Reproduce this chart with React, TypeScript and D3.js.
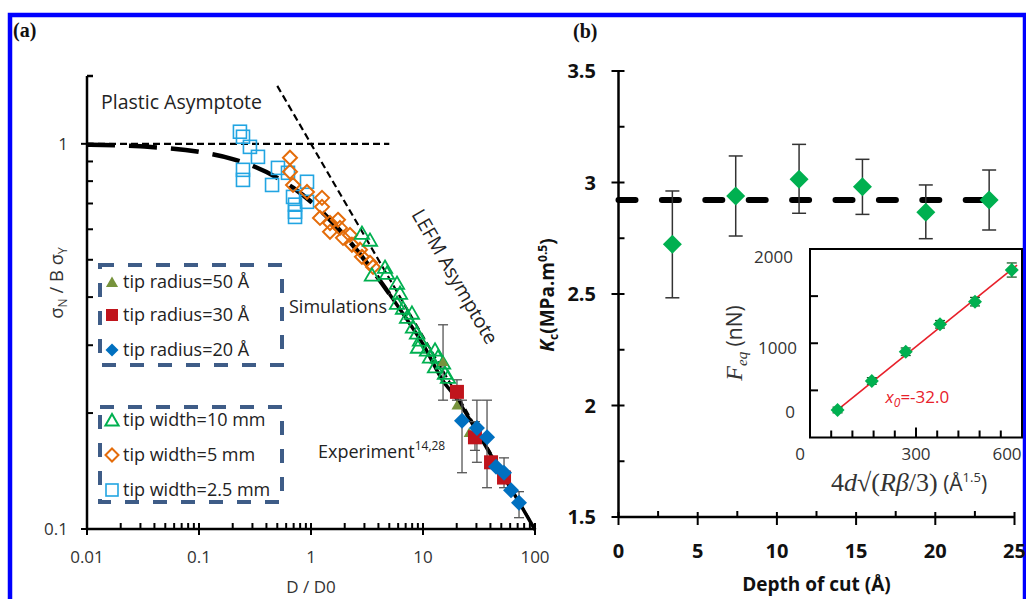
import React, { useEffect } from "react";
import * as d3 from "d3";

// ---------- panel (a): size effect, log-log ----------
const curveD = [0.01, 0.03, 0.1, 0.2, 0.3, 0.5, 0.7, 1, 1.5, 2, 3, 5, 7, 10, 15, 20, 30, 50, 70, 100];
const curveS = [0.995, 0.985, 0.953, 0.913, 0.877, 0.816, 0.767, 0.707, 0.632, 0.577, 0.5, 0.408, 0.354, 0.302, 0.243, 0.218, 0.18, 0.14, 0.119, 0.0995];
const plasticD = [0.01, 5];
const plasticS = [1, 1];
const lefmD = [0.5, 100];
const lefmS = [1.414, 0.1];

const sqD = [0.232, 0.247, 0.285, 0.336, 0.247, 0.247, 0.449, 0.507, 0.623, 0.921, 0.691, 0.921, 0.72, 0.72, 0.72];
const sqS = [1.075, 1.043, 0.982, 0.925, 0.856, 0.806, 0.782, 0.866, 0.841, 0.797, 0.728, 0.707, 0.695, 0.666, 0.646];
const dmD = [0.649, 0.649, 0.691, 0.921, 1.254, 1.254, 1.203, 1.478, 1.742, 1.478, 1.815, 1.931, 2.23, 2.32, 2.74, 2.85, 3.36, 3.58];
const dmS = [0.92, 0.846, 0.782, 0.75, 0.724, 0.686, 0.642, 0.623, 0.635, 0.591, 0.605, 0.57, 0.58, 0.547, 0.531, 0.509, 0.491, 0.479];
const trD = [2.85, 3.36, 3.5, 4.58, 4.77, 5.86, 6.23, 5.86, 6.63, 7.2, 7.97, 8.14, 8.84, 9.4, 9.02, 10.86, 11.55, 12.8, 13.6, 12.8, 15.1, 15.7, 16.7];
const trS = [0.587, 0.563, 0.457, 0.479, 0.462, 0.435, 0.41, 0.386, 0.375, 0.355, 0.364, 0.335, 0.323, 0.31, 0.297, 0.292, 0.28, 0.292, 0.28, 0.264, 0.27, 0.254, 0.248];

const r50D = [15.1, 20.1, 25.8];
const r50S = [0.272, 0.21, 0.178];
const r50Lo = [0.216, null, null];
const r50Hi = [0.339, null, null];
const r30D = [20.1, 29.1, 40.5, 52.9];
const r30S = [0.227, 0.173, 0.149, 0.136];
const r30Lo = [0.216, 0.16, null, 0.128];
const r30Hi = [0.244, 0.19, null, 0.153];
const r20D = [22.3, 30.3, 37.3, 44.9, 52.9, 61.1, 72.0];
const r20S = [0.191, 0.183, 0.173, 0.145, 0.14, 0.126, 0.117];
const r20Lo = [0.14, 0.149, 0.128, null, null, null, 0.107];
const r20Hi = [0.216, 0.216, 0.216, null, null, null, 0.125];

const xTicksA = [0.01, 0.1, 1, 10, 100];
const xTickLabelsA = ["0.01", "0.1", "1", "10", "100"];
const yTicksA = [0.1, 1];
const yTickLabelsA = ["0.1", "1"];
const legendLabels = ["tip radius=50 Å", "tip radius=30 Å", "tip radius=20 Å", "tip width=10 mm", "tip width=5 mm", "tip width=2.5 mm"];

// ---------- panel (b): toughness vs depth ----------
const depth = [3.4, 7.4, 11.4, 15.4, 19.4, 23.4];
const kc = [2.723, 2.939, 3.015, 2.981, 2.867, 2.921];
const kcLo = [2.483, 2.76, 2.862, 2.857, 2.748, 2.787];
const kcHi = [2.962, 3.119, 3.171, 3.104, 2.989, 3.056];
const kcMean = 2.921;
const xTicksB = [0, 5, 10, 15, 20, 25];
const yTicksB = [1.5, 2, 2.5, 3, 3.5];
const yTickLabelsB = ["1.5", "2", "2.5", "3", "3.5"];

// inset
const insetX = [78, 175, 271, 368, 467, 571];
const insetF = [292, 600, 910, 1201, 1441, 1777];
const insetErr = [30, 35, 40, 40, 45, 75];
const fitX = [78, 586];
const fitF = [292, 1830];
const insetXLabels = ["0", "300", "600"];
const insetXLabelVals = [0, 300, 600];
const insetYLabels = ["0", "1000", "2000"];
const insetYLabelVals = [0, 1000, 2000];

const C = {
  sky: "#22A5E2",
  orange: "#E46C0A",
  green: "#00B050",
  red: "#C0141C",
  blue: "#0070C0",
  olive: "#77933C",
  legend: "#3E5C87",
};

const tri = (cx: number, cy: number, w: number) =>
  `${cx},${cy - w * 0.5} ${cx + w * 0.55},${cy + w * 0.45} ${cx - w * 0.55},${cy + w * 0.45}`;
const dia = (cx: number, cy: number, r: number) =>
  `${cx},${cy - r} ${cx + r},${cy} ${cx},${cy + r} ${cx - r},${cy}`;

export default function App() {
  useEffect(() => {
    document.body.style.margin = "0";
  }, []);

  const xA = d3.scaleLog().domain([0.01, 100]).range([87, 535]);
  const yA = d3.scaleLog().domain([0.1, 1.5]).range([529, 76]);
  const xB = d3.scaleLinear().domain([0, 25]).range([618.5, 1014.5]);
  const yB = d3.scaleLinear().domain([1.5, 3.5]).range([517, 71]);
  const xI = d3.scaleLinear().domain([0, 600]).range([810, 1022]);
  const yI = d3.scaleLinear().domain([0, 2000]).range([437.5, 249]);

  const lineA = d3
    .line<[number, number]>()
    .x((d) => xA(d[0]))
    .y((d) => yA(d[1]))
    .curve(d3.curveMonotoneX);
  const pairs = (a: number[], b: number[]) => a.map((v, i) => [v, b[i]] as [number, number]);
  const curve = pairs(curveD, curveS);
  const curveDash = curve.filter((d) => d[0] <= 5);
  const curveSolid = curve.filter((d) => d[0] >= 5);

  const minorX = xA.ticks().filter((v) => !xTicksA.some((t) => Math.abs(t - v) < 1e-9));
  const minorY = yA.ticks().filter((v) => v <= 1.5 && !yTicksA.some((t) => Math.abs(t - v) < 1e-9));

  const sans = "'Open Sans', sans-serif";
  const serif = "'Liberation Serif', 'DejaVu Serif', serif";

  const errA = (D: number[], lo: (number | null)[], hi: (number | null)[], key: string) =>
    D.map((d, i) =>
      lo[i] == null ? null : (
        <g key={key + i} stroke="#555" strokeWidth={1.3}>
          <line x1={xA(d)} x2={xA(d)} y1={yA(hi[i] as number)} y2={yA(lo[i] as number)} />
          <line x1={xA(d) - 5} x2={xA(d) + 5} y1={yA(hi[i] as number)} y2={yA(hi[i] as number)} />
          <line x1={xA(d) - 5} x2={xA(d) + 5} y1={yA(lo[i] as number)} y2={yA(lo[i] as number)} />
        </g>
      )
    );

  const legendY = [282, 315, 350, 420, 455, 490];
  const legendMarker = (i: number, y: number) => {
    const x = 112;
    switch (i) {
      case 0:
        return <polygon points={tri(x, y, 11)} fill={C.olive} />;
      case 1:
        return <rect x={x - 6} y={y - 6} width={12} height={12} fill={C.red} />;
      case 2:
        return <polygon points={dia(x, y, 6.5)} fill={C.blue} />;
      case 3:
        return <polygon points={tri(x, y, 12)} fill="none" stroke={C.green} strokeWidth={2} />;
      case 4:
        return <polygon points={dia(x, y, 6.5)} fill="none" stroke={C.orange} strokeWidth={2} />;
      default:
        return <rect x={x - 6} y={y - 6} width={12} height={12} fill="none" stroke={C.sky} strokeWidth={1.6} />;
    }
  };

  const mean: [number, number][] = [[0, kcMean], [depth[depth.length - 1], kcMean]];
  const lineB = d3
    .line<[number, number]>()
    .x((d) => xB(d[0]))
    .y((d) => yB(d[1]));

  return (
    <svg width={1026} height={599} style={{ position: "absolute", left: 0, top: 0, background: "#fff" }}>
      <rect x={0} y={0} width={1026} height={599} fill="#fff" />
      <rect x={10} y={15} width={1015} height={610} fill="none" stroke="#0000FF" strokeWidth={4.5} />

      {/* ===== panel (a) ===== */}
      <text x={13} y={37} fontFamily={serif} fontWeight="bold" fontSize={20} fill="#111">(a)</text>

      {/* asymptotes and model curve */}
      <path d={lineA(pairs(plasticD, plasticS)) || ""} fill="none" stroke="#000" strokeWidth={2.2} strokeDasharray="7 4" />
      <path d={lineA(pairs(lefmD, lefmS)) || ""} fill="none" stroke="#000" strokeWidth={2.2} strokeDasharray="7 4" />
      <path d={lineA(curveDash) || ""} fill="none" stroke="#000" strokeWidth={4.5} strokeDasharray="28 14" />
      <path d={lineA(curveSolid) || ""} fill="none" stroke="#000" strokeWidth={3.5} />

      {/* error bars */}
      {errA(r50D, r50Lo, r50Hi, "e50")}
      {errA(r30D, r30Lo, r30Hi, "e30")}
      {errA(r20D, r20Lo, r20Hi, "e20")}

      {/* experiment markers */}
      {sqD.map((d, i) => (
        <rect key={"sq" + i} x={xA(d) - 6.5} y={yA(sqS[i]) - 6.5} width={13} height={13} fill="none" stroke={C.sky} strokeWidth={1.6} />
      ))}
      {dmD.map((d, i) => (
        <polygon key={"dm" + i} points={dia(xA(d), yA(dmS[i]), 7)} fill="none" stroke={C.orange} strokeWidth={2} />
      ))}
      {trD.map((d, i) => (
        <polygon key={"tr" + i} points={tri(xA(d), yA(trS[i]), 13)} fill="none" stroke={C.green} strokeWidth={1.8} />
      ))}
      {/* simulation markers */}
      {r50D.map((d, i) => (
        <polygon key={"r50" + i} points={tri(xA(d), yA(r50S[i]), 10)} fill={C.olive} />
      ))}
      {r30D.map((d, i) => (
        <rect key={"r30" + i} x={xA(d) - 7} y={yA(r30S[i]) - 7} width={14} height={14} fill={C.red} />
      ))}
      {r20D.map((d, i) => (
        <polygon key={"r20" + i} points={dia(xA(d), yA(r20S[i]), 8)} fill={C.blue} />
      ))}

      {/* axes */}
      <g stroke="#000" strokeWidth={2.5}>
        <line x1={xA(0.01)} x2={xA(0.01)} y1={76} y2={yA(0.1)} />
        <line x1={xA(0.01)} x2={xA(100)} y1={yA(0.1)} y2={yA(0.1)} />
        <line x1={xA(0.01)} x2={xA(0.01) + 6} y1={76} y2={76} />
      </g>
      <g stroke="#000" strokeWidth={2}>
        {xTicksA.map((t) => (
          <line key={"xa" + t} x1={xA(t)} x2={xA(t)} y1={yA(0.1) - 6} y2={yA(0.1) + 6} />
        ))}
        {minorX.map((t, i) => (
          <line key={"mxa" + i} x1={xA(t)} x2={xA(t)} y1={yA(0.1) - 6} y2={yA(0.1)} />
        ))}
        {yTicksA.map((t) => (
          <line key={"ya" + t} x1={xA(0.01) - 6} x2={xA(0.01) + 6} y1={yA(t)} y2={yA(t)} />
        ))}
        {minorY.map((t, i) => (
          <line key={"mya" + i} x1={xA(0.01)} x2={xA(0.01) + 6} y1={yA(t)} y2={yA(t)} />
        ))}
      </g>
      <g fontFamily={sans} fontSize={17} fill="#333">
        {xTicksA.map((t, i) => (
          <text key={"xla" + t} x={xA(t)} y={563} textAnchor="middle">{xTickLabelsA[i]}</text>
        ))}
        {yTicksA.map((t, i) => (
          <text key={"yla" + t} x={68} y={yA(t) + 6} textAnchor="end">{yTickLabelsA[i]}</text>
        ))}
        <text x={xA(1)} y={593} textAnchor="middle">D / D0</text>
        <text transform="translate(63,283) rotate(-90)" textAnchor="middle" fontSize={18.5}>
          σ<tspan fontSize={12} dy={4}>N</tspan>
          <tspan dy={-4}> / B σ</tspan>
          <tspan fontSize={12} dy={4}>Y</tspan>
        </text>
      </g>

      <g fontFamily={sans} fontSize={19.5} fill="#222">
        <text x={101} y={109}>Plastic Asymptote</text>
        <text transform="translate(449,280) rotate(60)" textAnchor="middle">LEFM Asymptote</text>
        <text x={289} y={313} fontSize={18}>Simulations</text>
        <text x={318} y={458} fontSize={18}>
          Experiment<tspan fontSize={12} dy={-8}>14,28</tspan>
        </text>
      </g>

      {/* legend boxes */}
      <g fill="none" stroke={C.legend} strokeWidth={4} strokeDasharray="14 14">
        <rect x={100} y={265} width={182} height={100} />
        <rect x={100} y={407} width={182} height={95} />
      </g>
      {legendLabels.map((l, i) => (
        <g key={"lg" + i}>
          {legendMarker(i, legendY[i])}
          <text x={123} y={legendY[i] + 6} fontFamily={sans} fontSize={18} fill="#222">{l}</text>
        </g>
      ))}

      {/* ===== panel (b) ===== */}
      <text x={573} y={38} fontFamily={serif} fontWeight="bold" fontSize={20} fill="#111">(b)</text>

      <path d={lineB(mean) || ""} fill="none" stroke="#000" strokeWidth={6} strokeLinecap="round" strokeDasharray="17 26.4" />

      {depth.map((d, i) => (
        <g key={"eb" + i} stroke="#333" strokeWidth={1.5}>
          <line x1={xB(d)} x2={xB(d)} y1={yB(kcHi[i])} y2={yB(kcLo[i])} />
          <line x1={xB(d) - 7} x2={xB(d) + 7} y1={yB(kcHi[i])} y2={yB(kcHi[i])} />
          <line x1={xB(d) - 7} x2={xB(d) + 7} y1={yB(kcLo[i])} y2={yB(kcLo[i])} />
        </g>
      ))}
      {depth.map((d, i) => (
        <polygon key={"kc" + i} points={dia(xB(d), yB(kc[i]), 9.5)} fill={C.green} />
      ))}

      <g stroke="#000" strokeWidth={2.5}>
        <line x1={xB(0)} x2={xB(0)} y1={yB(3.5)} y2={yB(1.5)} />
        <line x1={xB(0)} x2={xB(25)} y1={yB(1.5)} y2={yB(1.5)} />
      </g>
      <g stroke="#000" strokeWidth={2}>
        {xTicksB.map((t) => (
          <line key={"xb" + t} x1={xB(t)} x2={xB(t)} y1={yB(1.5) - 5} y2={yB(1.5) + 8} />
        ))}
        {xTicksB.slice(0, -1).map((t) => (
          <line key={"mxb" + t} x1={xB(t + 2.5)} x2={xB(t + 2.5)} y1={yB(1.5) - 6} y2={yB(1.5)} />
        ))}
        {yTicksB.map((t) => (
          <line key={"yb" + t} x1={xB(0) - 7} x2={xB(0) + 6} y1={yB(t)} y2={yB(t)} />
        ))}
        {yTicksB.slice(0, -1).map((t) => (
          <line key={"myb" + t} x1={xB(0)} x2={xB(0) + 6} y1={yB(t + 0.25)} y2={yB(t + 0.25)} />
        ))}
      </g>
      <g fontFamily={sans} fontWeight="bold" fontSize={20} fill="#111">
        {xTicksB.map((t) => (
          <text key={"xlb" + t} x={xB(t)} y={558} textAnchor="middle">{t}</text>
        ))}
        {yTicksB.map((t, i) => (
          <text key={"ylb" + t} x={596} y={yB(t) + 7} textAnchor="end">{yTickLabelsB[i]}</text>
        ))}
        <text x={(xB(0) + xB(25)) / 2} y={591} textAnchor="middle" fontSize={19}>Depth of cut (Å)</text>
        <text transform="translate(554,295) rotate(-90)" textAnchor="middle" fontSize={19}>
          <tspan fontStyle="italic">K</tspan>
          <tspan fontSize={12} dy={4}>c</tspan>
          <tspan dy={-4}>(MPa.m</tspan>
          <tspan fontSize={12} dy={-7}>0.5</tspan>
          <tspan dy={7}>)</tspan>
        </text>
      </g>

      {/* inset */}
      <rect x={xI(0)} y={yI(2000)} width={xI(600) - xI(0)} height={yI(0) - yI(2000)} fill="#fff" stroke="#000" strokeWidth={2} />
      <g stroke="#000" strokeWidth={2}>
        {d3.range(60, 600, 60).map((t) => (
          <line key={"xi" + t} x1={xI(t)} x2={xI(t)} y1={yI(0)} y2={yI(0) - (t === 300 ? 10 : 7)} />
        ))}
        {d3.range(500, 2000, 500).map((t) => (
          <line key={"yi" + t} x1={xI(0)} x2={xI(0) + 8} y1={yI(t)} y2={yI(t)} />
        ))}
      </g>
      <path d={`M${xI(fitX[0])},${yI(fitF[0])}L${xI(fitX[1])},${yI(fitF[1])}`} stroke="#E8202A" strokeWidth={1.6} fill="none" />
      {insetX.map((x, i) => (
        <g key={"ie" + i} stroke="#1a5e2a" strokeWidth={1.3}>
          <line x1={xI(x)} x2={xI(x)} y1={yI(insetF[i] + insetErr[i])} y2={yI(insetF[i] - insetErr[i])} />
          <line x1={xI(x) - 5} x2={xI(x) + 5} y1={yI(insetF[i] + insetErr[i])} y2={yI(insetF[i] + insetErr[i])} />
          <line x1={xI(x) - 5} x2={xI(x) + 5} y1={yI(insetF[i] - insetErr[i])} y2={yI(insetF[i] - insetErr[i])} />
        </g>
      ))}
      {insetX.map((x, i) => (
        <polygon key={"ip" + i} points={dia(xI(x), yI(insetF[i]), 7)} fill={C.green} />
      ))}
      <g fontFamily={sans} fontSize={17} fill="#333">
        {insetXLabelVals.map((v, i) => (
          <text key={"ixl" + v} x={xI(v) + (v === 0 ? -10 : v === 600 ? -15 : 0)} y={460} textAnchor="middle">{insetXLabels[i]}</text>
        ))}
        {insetYLabelVals.map((v, i) => (
          <text key={"iyl" + v} x={v === 0 ? 795 : v === 1000 ? 797 : 793} y={yI(v) + (v === 0 ? -20 : v === 1000 ? 10.5 : 13.5)} textAnchor="end">
            {insetYLabels[i]}
          </text>
        ))}
      </g>
      <text x={xI(214)} y={403} fontFamily={sans} fontSize={17} fill="#E8202A" fontStyle="italic">
        x<tspan fontSize={12} dy={4}>0</tspan>
        <tspan dy={-4} fontStyle="normal">=-32.0</tspan>
      </text>
      <text x={831} y={491} fontFamily={serif} fontSize={26} fill="#333">
        4<tspan fontStyle="italic">d</tspan>√(<tspan fontStyle="italic">Rβ</tspan>/3)
        <tspan fontFamily={sans} fontSize={21}> (Å</tspan>
        <tspan fontFamily={sans} fontSize={13} dy={-9}>1.5</tspan>
        <tspan fontFamily={sans} fontSize={21} dy={9}>)</tspan>
      </text>
      <text transform="translate(742,343) rotate(-90)" textAnchor="middle" fontFamily={serif} fontSize={24} fill="#333">
        <tspan fontStyle="italic">F</tspan>
        <tspan fontStyle="italic" fontSize={15} dy={5}>eq</tspan>
        <tspan fontFamily={sans} fontSize={21} dy={-5}> (nN)</tspan>
      </text>
    </svg>
  );
}
